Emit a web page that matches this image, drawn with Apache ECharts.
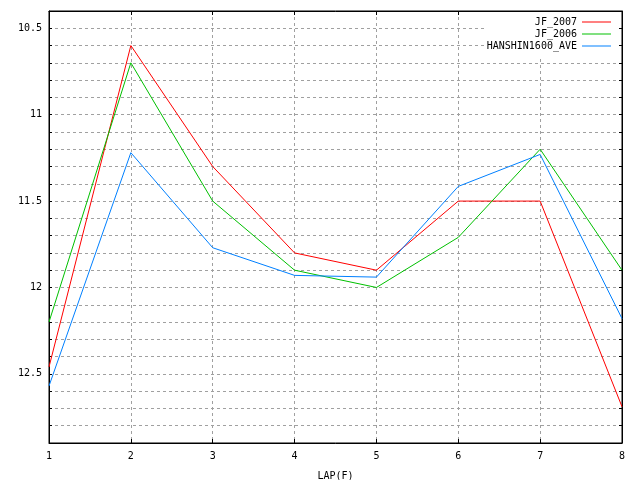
<!DOCTYPE html>
<html>
<head>
<meta charset="utf-8">
<script src="https://cdn.jsdelivr.net/npm/echarts@6/dist/echarts.min.js"></script>
<style>html,body{margin:0;padding:0;background:#fff}#c{width:640px;height:480px}</style>
</head>
<body>
<div id="c"></div>
<script>
const laps = [1, 2, 3, 4, 5, 6, 7, 8];
const jf2007 = [12.46, 10.6, 11.3, 11.8, 11.9, 11.5, 11.5, 12.69];
const jf2006 = [12.2, 10.7, 11.5, 11.9, 12.0, 11.71, 11.2, 11.9];
const hanshin = [12.57, 11.22, 11.77, 11.93, 11.94, 11.415, 11.23, 12.18];
const seriesNames = ['JF_2007', 'JF_2006', 'HANSHIN1600_AVE'];
const seriesColors = ['#ff0000', '#00c000', '#0080ff'];
const seriesData = [jf2007, jf2006, hanshin];

const FONT = 'DejaVu Sans Mono';
const grid = '#a0a0a0';

const chart = echarts.init(document.getElementById('c'), null, {renderer: 'canvas'});
const yLabel = v => {
  const d = v * 2;
  return Math.abs(d - Math.round(d)) < 1e-6 ? String(+v.toFixed(1)) : '';
};
chart.setOption({
  animation: false,
  backgroundColor: '#fff',
  grid: {left: 49, right: 18, top: 11, bottom: 37, outerBoundsMode: 'none', containLabel: false, show: true, borderColor: '#000', borderWidth: 1, backgroundColor: 'transparent'},
  legend: {
    orient: 'vertical', right: 24, top: 12, align: 'right', itemGap: 0,
    padding: [4, 5, 4, 1], backgroundColor: '#fff',
    itemWidth: 29, itemHeight: 1, icon: 'rect',
    textStyle: {fontFamily: FONT, fontSize: 10, color: '#000', lineHeight: 12},
    data: seriesNames
  },
  xAxis: [{
    type: 'value', min: 1, max: 8, interval: 1,
    name: 'LAP(F)', nameLocation: 'middle', nameGap: 28,
    nameTextStyle: {fontFamily: FONT, fontSize: 10, color: '#000'},
    axisLine: {show: true, lineStyle: {color: '#000', width: 1}},
    axisTick: {show: true, inside: true, length: 4, lineStyle: {color: '#000'}},
    axisLabel: {fontFamily: FONT, fontSize: 10, color: '#000', margin: 8},
    splitLine: {show: true, lineStyle: {color: grid, type: [3, 3], width: 1}}
  }, {
    type: 'value', min: 1, max: 8, interval: 1, position: 'top',
    axisLine: {show: true, lineStyle: {color: '#000'}},
    axisTick: {show: true, inside: true, length: 4, lineStyle: {color: '#000'}},
    axisLabel: {show: false}, splitLine: {show: false}
  }],
  yAxis: [{
    type: 'value', inverse: true, min: 10.4, max: 12.9, interval: 0.1,
    axisLine: {show: true, lineStyle: {color: '#000', width: 1}},
    axisTick: {show: true, inside: true, length: 3, lineStyle: {color: '#000'}},
    axisLabel: {fontFamily: FONT, fontSize: 10, color: '#000', margin: 7, formatter: yLabel, showMinLabel: true, showMaxLabel: true},
    splitLine: {show: true, lineStyle: {color: grid, type: [3, 3], width: 1}}
  }, {
    type: 'value', inverse: true, min: 10.4, max: 12.9, interval: 0.1, position: 'right',
    axisLine: {show: true, lineStyle: {color: '#000'}},
    axisTick: {show: true, inside: true, length: 3, lineStyle: {color: '#000'}},
    axisLabel: {show: false}, splitLine: {show: false}
  }],
  series: seriesNames.map((n, i) => ({
    name: n, type: 'line', symbol: 'none', color: seriesColors[i],
    lineStyle: {width: 1, color: seriesColors[i]},
    data: laps.map((x, j) => [x, seriesData[i][j]])
  }))
});
</script>
</body>
</html>
